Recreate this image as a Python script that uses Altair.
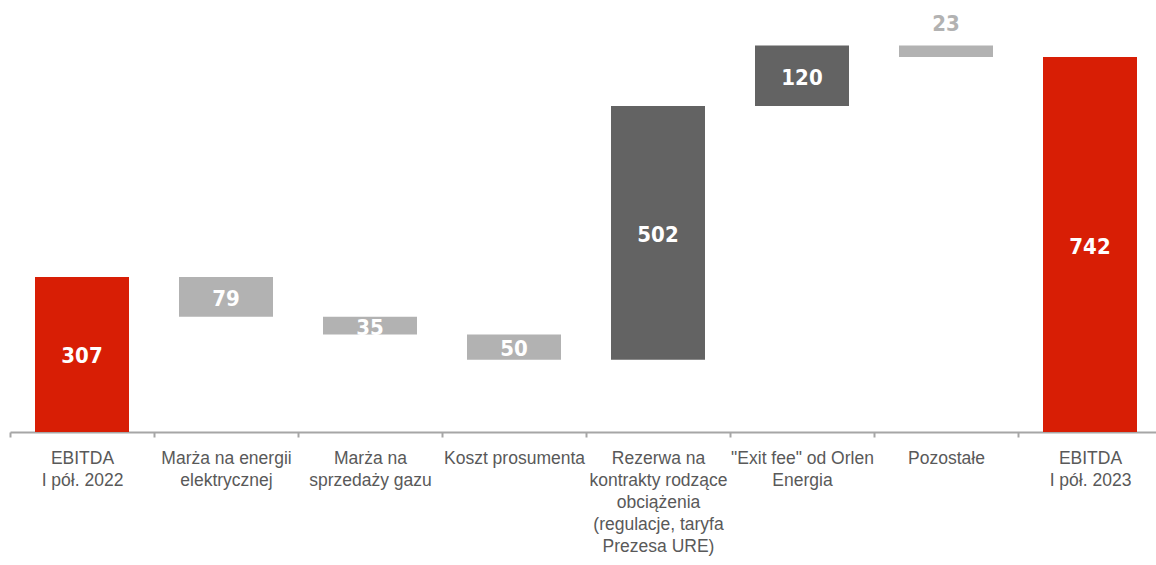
import altair as alt
import pandas as pd

categories = [
    "EBITDA|I pół. 2022",
    "Marża na energii|elektrycznej",
    "Marża na|sprzedaży gazu",
    "Koszt prosumenta",
    "Rezerwa na|kontrakty rodzące|obciążenia|(regulacje, taryfa|Prezesa URE)",
    "\"Exit fee\" od Orlen|Energia",
    "Pozostałe",
    "EBITDA|I pół. 2023",
]
amounts = [307, -79, -35, -50, 502, 120, -23, 742]
kinds = ["total", "neg", "neg", "neg", "pos", "pos", "neg", "total"]
label_place = ["inside", "inside", "inside", "inside", "inside", "inside", "above", "inside"]

rows = []
running = 0
for c, a, k, lp in zip(categories, amounts, kinds, label_place):
    if k == "total":
        start, end = 0, a
        running = a
    else:
        start = running
        end = running + a
        running = end
    rows.append({"cat": c, "start": start, "end": end, "mid": (start + end) / 2,
                 "top": max(start, end), "kind": k, "label": str(abs(a)), "place": lp})
df = pd.DataFrame(rows)

VALUE_FONT = "Liberation Sans Narrow, Arial Narrow, DejaVu Sans Condensed, Roboto Condensed, Liberation Sans"

x = alt.X("cat:N", sort=categories, title=None,
          scale=alt.Scale(paddingInner=0, paddingOuter=0, range=[0, 1152]),
          axis=alt.Axis(labelExpr="split(datum.label, '|')", labelAngle=0,
                        labelFont="Liberation Sans", labelFontSize=17.5, labelColor="#595959",
                        labelLineHeight=22, labelPadding=12, labelBaseline="top",
                        domainColor="#A6A6A6", domainWidth=2, tickColor="#A6A6A6",
                        tickWidth=2, tickSize=5, tickBand="extent", grid=False))
y_scale = alt.Scale(domain=[0, 855], nice=False, zero=True)

base = alt.Chart(df)
bars = base.mark_bar(size=94).encode(
    x=x,
    y=alt.Y("start:Q", scale=y_scale, axis=None),
    y2="end:Q",
    color=alt.Color("kind:N", legend=None,
                    scale=alt.Scale(domain=["total", "neg", "pos"],
                                    range=["#D81E05", "#B2B2B2", "#636363"])),
)
inside = base.transform_filter(alt.datum.place == "inside").mark_text(
    font=VALUE_FONT, fontWeight="bold", fontSize=22, color="white",
    baseline="middle", dy=2).encode(
    x=alt.X("cat:N", sort=categories),
    y=alt.Y("mid:Q", scale=y_scale),
    text="label:N")
above = base.transform_filter(alt.datum.place == "above").mark_text(
    font=VALUE_FONT, fontWeight="bold", fontSize=22, color="#B2B2B2",
    baseline="bottom", dy=-9).encode(
    x=alt.X("cat:N", sort=categories),
    y=alt.Y("top:Q", scale=y_scale),
    text="label:N")

chart = (bars + inside + above).properties(
    width=1146, height=432,
    padding={"left": 10, "top": 0, "right": 0, "bottom": 133},
    autosize=alt.AutoSizeParams(type="none"),
).configure_view(stroke=None)

chart.save("out.html", embed_options={"renderer": "svg", "actions": False})
